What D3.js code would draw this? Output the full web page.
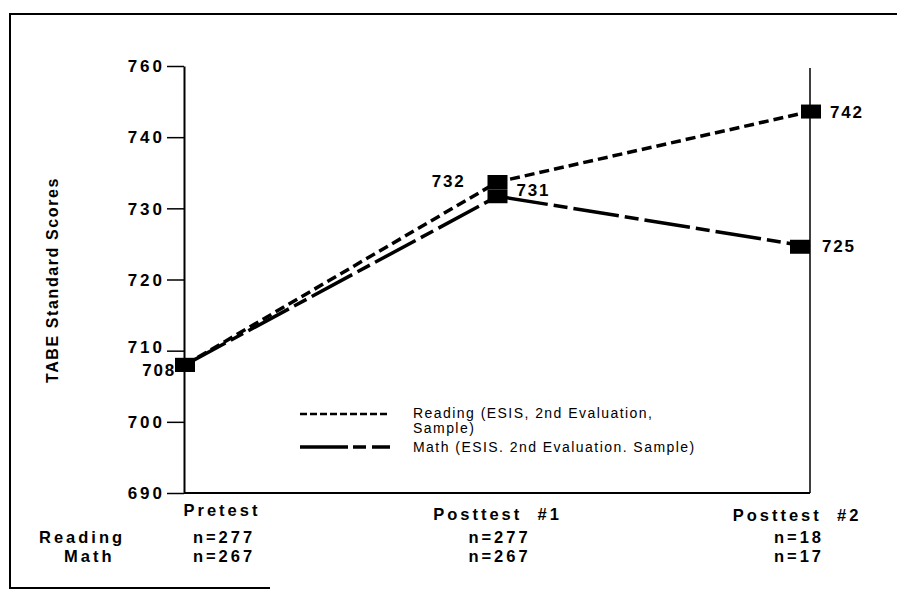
<!DOCTYPE html>
<html>
<head>
<meta charset="utf-8">
<script src="https://cdn.jsdelivr.net/npm/d3@7"></script>
<style>
  html, body { margin: 0; padding: 0; background: #fff; }
  svg { display: block; }
  text { font-family: "Liberation Sans", Arial, sans-serif; fill: #000; }
</style>
</head>
<body>
<svg id="chart" width="897" height="592"></svg>
<script>
// ---- data ----
const categories = ["Pretest", "Posttest #1", "Posttest #2"];
const readingValues = [708.0, 733.7, 743.6];
const mathValues = [708.0, 731.7, 724.6];
const readingLabels = ["", "732", "742"];
const mathLabels = ["708", "731", "725"];
const readingN = ["n=277", "n=277", "n=18"];
const mathN = ["n=267", "n=267", "n=17"];
const tickValues = [690, 700, 710, 720, 730, 740, 750];
const tickLabels = ["690", "700", "710", "720", "730", "740", "760"];
const seriesNames = ["Reading (ESIS, 2nd Evaluation,", "Sample)", "Math (ESIS. 2nd Evaluation. Sample)"];
const yTitle = "TABE Standard Scores";

// ---- layout ----
const svg = d3.select("#chart");
const x = d3.scalePoint().domain(categories).range([185, 810]);
const y = d3.scaleLinear().domain([690, 750]).range([493, 66]);

// frame
svg.append("path")
  .attr("d", "M270,588 L10,588 L10,14 L897,14")
  .attr("fill", "none").attr("stroke", "#000").attr("stroke-width", 2);

// left axis
const yAxis = d3.axisLeft(y).tickValues(tickValues)
  .tickFormat((d, i) => tickLabels[i]).tickSize(17).tickSizeOuter(0);
const gy = svg.append("g").attr("transform", "translate(184,0)").call(yAxis);
gy.select(".domain").attr("stroke", "#000").attr("stroke-width", 2);
gy.selectAll(".tick line").attr("stroke", "#000").attr("stroke-width", 1.5);
gy.selectAll(".tick text")
  .attr("x", -19).attr("dy", "0.34em")
  .style("font-size", "17px").style("font-weight", "bold")
  .style("letter-spacing", "3px")
  .style("font-family", "'Liberation Sans', Arial, sans-serif");
gy.selectAll(".tick").filter(d => d === 710).select("text").attr("dy", "0.1em");

// bottom axis line and right vertical
svg.append("line").attr("x1", 184).attr("x2", x(categories[2]))
  .attr("y1", y(690)).attr("y2", y(690)).attr("stroke", "#000").attr("stroke-width", 2);
svg.append("line").attr("x1", x(categories[2])).attr("x2", x(categories[2]))
  .attr("y1", y(750) + 2).attr("y2", y(690)).attr("stroke", "#000").attr("stroke-width", 1.5);

// y title
svg.append("text")
  .attr("transform", "translate(58,280) rotate(-90)")
  .attr("text-anchor", "middle")
  .style("font-size", "16px").style("font-weight", "bold").style("letter-spacing", "1.6px")
  .text(yTitle);

// lines
const line = d3.line().x((d, i) => x(categories[i])).y(d => y(d));
svg.append("path").datum(mathValues).attr("d", line)
  .attr("fill", "none").attr("stroke", "#000").attr("stroke-width", 3.5)
  .attr("stroke-dasharray", "46,6,14,6");
svg.append("path").datum(readingValues).attr("d", line)
  .attr("fill", "none").attr("stroke", "#000").attr("stroke-width", 3.5)
  .attr("stroke-dasharray", "10,5");

// markers
const mw = 20, mh = 14;
const markerDx = [0, 0, -10];
svg.selectAll("rect.math").data(mathValues).join("rect").attr("class", "math")
  .attr("x", (d, i) => x(categories[i]) - mw / 2 + markerDx[i]).attr("y", d => y(d) - mh / 2)
  .attr("width", mw).attr("height", mh).attr("fill", "#000");
svg.selectAll("rect.read").data(readingValues).join("rect").attr("class", "read")
  .attr("x", (d, i) => x(categories[i]) - mw / 2 + (i === 2 ? 1 : 0)).attr("y", d => y(d) - mh / 2)
  .attr("width", mw).attr("height", mh).attr("fill", "#000");

// value labels
const lblStyle = sel => sel.style("font-size", "17px").style("letter-spacing", "1.8px").style("font-weight", "bold");
const readingLabelOffsets = [[0, 0, "end"], [-32, 5, "end"], [20, 6, "start"]];
const mathLabelOffsets = [[-9, 11, "end"], [19, 0, "start"], [12, 5, "start"]];
readingValues.forEach((v, i) => {
  if (!readingLabels[i]) return;
  const o = readingLabelOffsets[i];
  svg.append("text").attr("x", x(categories[i]) + o[0]).attr("y", y(v) + o[1])
    .attr("text-anchor", o[2]).call(lblStyle).text(readingLabels[i]);
});
mathValues.forEach((v, i) => {
  if (!mathLabels[i]) return;
  const o = mathLabelOffsets[i];
  svg.append("text").attr("x", x(categories[i]) + o[0]).attr("y", y(v) + o[1])
    .attr("text-anchor", o[2]).call(lblStyle).text(mathLabels[i]);
});

// legend
const lg = svg.append("g");
lg.append("line").attr("x1", 300).attr("x2", 390).attr("y1", 414).attr("y2", 414)
  .attr("stroke", "#000").attr("stroke-width", 2.5).attr("stroke-dasharray", "7,3");
lg.append("line").attr("x1", 300).attr("x2", 390).attr("y1", 447).attr("y2", 447)
  .attr("stroke", "#000").attr("stroke-width", 3.5).attr("stroke-dasharray", "48,5,13,6,19");
const legStyle = sel => sel.style("font-size", "14px").style("letter-spacing", "1.45px");
lg.append("text").attr("x", 413).attr("y", 418).call(legStyle).text(seriesNames[0]);
lg.append("text").attr("x", 413).attr("y", 433).call(legStyle).text(seriesNames[1]);
lg.append("text").attr("x", 413).attr("y", 452).call(legStyle).text(seriesNames[2]);

// category labels and n rows
const catDx = [37, 0, -13];
const catY = [516, 520, 521];
const boldStyle = sel => sel.style("font-size", "16.5px").style("font-weight", "bold").style("letter-spacing", "3px");
categories.forEach((c, i) => {
  const cx = x(c) + catDx[i];
  svg.append("text").attr("x", cx).attr("y", catY[i]).attr("text-anchor", "middle")
    .call(boldStyle).text(c.replace(" ", "\u00a0 "));
  svg.append("text").attr("x", cx + 2).attr("y", 543).attr("text-anchor", "middle")
    .call(boldStyle).text(readingN[i]);
  svg.append("text").attr("x", cx + 2).attr("y", 562).attr("text-anchor", "middle")
    .call(boldStyle).text(mathN[i]);
});
svg.append("text").attr("x", 39).attr("y", 543).call(boldStyle).text("Reading");
svg.append("text").attr("x", 64).attr("y", 562).call(boldStyle).text("Math");
</script>
</body>
</html>
